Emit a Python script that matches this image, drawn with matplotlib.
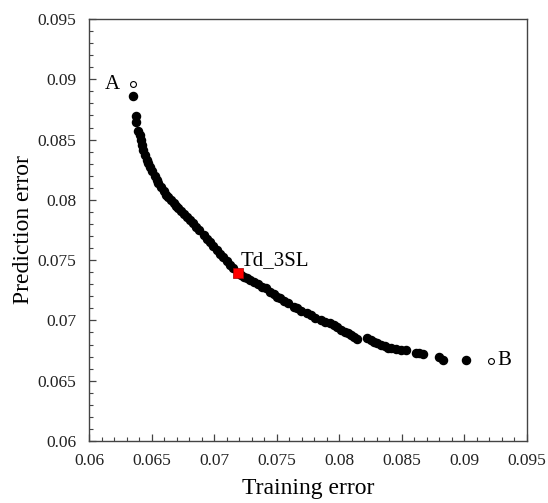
import matplotlib
matplotlib.use("Agg")
import matplotlib.pyplot as plt
from matplotlib.ticker import MultipleLocator

# Pareto front
training_error = [
    0.06355, 0.06374, 0.06379, 0.06395, 0.06404, 0.06416, 0.06424, 0.06435,
    0.06449, 0.06461, 0.06473, 0.06489, 0.06505, 0.06525, 0.06541, 0.06555,
    0.06577, 0.06601, 0.06617, 0.06635, 0.06657, 0.06681, 0.06697, 0.06715,
    0.06737, 0.06761, 0.06785, 0.06809, 0.06833, 0.06857, 0.06881, 0.06915,
    0.06945, 0.06969, 0.06993, 0.07023, 0.07049, 0.07073, 0.07101, 0.07129,
    0.07153, 0.07217, 0.07241, 0.07265, 0.07289, 0.07321, 0.07353, 0.07386,
    0.07418, 0.07450, 0.07482, 0.07506, 0.07530, 0.07562, 0.07594, 0.07636,
    0.07666, 0.07698, 0.07744, 0.07770, 0.07802, 0.07850, 0.07882, 0.07922,
    0.07954, 0.07984, 0.08010, 0.08042, 0.08066, 0.08090, 0.08114, 0.08144,
    0.08221, 0.08250, 0.08275, 0.08304, 0.08331, 0.08363, 0.08387, 0.08411,
    0.08451, 0.08491, 0.08531, 0.08611, 0.08635, 0.08665, 0.08798, 0.08825,
    0.09011,
]
prediction_error = [
    0.08861, 0.08696, 0.08648, 0.08571, 0.08538, 0.08496, 0.08455, 0.08414,
    0.08372, 0.08331, 0.08302, 0.08275, 0.08239, 0.08198, 0.08165, 0.08137,
    0.08107, 0.08074, 0.08044, 0.08026, 0.07999, 0.07970, 0.07949, 0.07930,
    0.07908, 0.07883, 0.07854, 0.07833, 0.07804, 0.07775, 0.07750, 0.07709,
    0.07675, 0.07650, 0.07621, 0.07584, 0.07555, 0.07526, 0.07493, 0.07460,
    0.07431, 0.07377, 0.07360, 0.07348, 0.07335, 0.07319, 0.07302, 0.07281,
    0.07265, 0.07238, 0.07219, 0.07198, 0.07184, 0.07165, 0.07145, 0.07114,
    0.07099, 0.07082, 0.07059, 0.07045, 0.07024, 0.07004, 0.06991, 0.06975,
    0.06958, 0.06948, 0.06921, 0.06908, 0.06896, 0.06879, 0.06863, 0.06843,
    0.06852, 0.06838, 0.06825, 0.06810, 0.06800, 0.06788, 0.06775, 0.06769,
    0.06761, 0.06755, 0.06755, 0.06727, 0.06726, 0.06722, 0.06699, 0.06672,
    0.06672,
]

# extreme solutions A and B (open circles) and the chosen one
end_names = ["A", "B"]
end_train = [0.06350, 0.09212]
end_pred = [0.08958, 0.06664]
chosen_name = "Td_3SL"
chosen_train = 0.07193
chosen_pred = 0.07391

plt.rcParams["font.family"] = ["Liberation Serif", "DejaVu Serif"]

fig = plt.figure(figsize=(5.48, 5.03), dpi=100)
ax = fig.add_axes([0.1624, 0.1233, 0.7993, 0.8389])

ax.scatter(training_error, prediction_error, s=34, color="black", zorder=3)
ax.scatter(end_train, end_pred, s=18, facecolor="white", edgecolor="black",
           linewidth=0.8, zorder=3)
ax.scatter([chosen_train], [chosen_pred], s=50, marker="s", color="red",
           edgecolor="#a00000", linewidth=0.5, zorder=4)

ax.text(end_train[0] - 0.0010, end_pred[0], end_names[0], fontsize=15,
        ha="right", va="center")
ax.text(end_train[1] + 0.0005, end_pred[1], end_names[1], fontsize=15,
        ha="left", va="center")
ax.text(chosen_train + 0.0002, chosen_pred + 0.0003, chosen_name, fontsize=15,
        ha="left", va="bottom")

ax.set_xlim(0.06, 0.095)
ax.set_ylim(0.06, 0.095)
ax.xaxis.set_major_locator(MultipleLocator(0.005))
ax.yaxis.set_major_locator(MultipleLocator(0.005))
ax.xaxis.set_minor_locator(MultipleLocator(0.001))
ax.yaxis.set_minor_locator(MultipleLocator(0.001))


def fmt(v, pos):
    return ("%.3f" % v).rstrip("0")


ax.xaxis.set_major_formatter(plt.FuncFormatter(fmt))
ax.yaxis.set_major_formatter(plt.FuncFormatter(fmt))

ax.tick_params(which="both", direction="in", top=False, right=False,
               labelsize=12.5, color="#444444", labelcolor="#222222")
ax.tick_params(which="major", length=5, width=0.9, pad=9)
ax.tick_params(which="minor", length=3, width=0.8)
for sp in ax.spines.values():
    sp.set_color("#444444")
    sp.set_linewidth(1.0)

ax.set_xlabel("Training error", fontsize=17, labelpad=6)
ax.set_ylabel("Prediction error", fontsize=17, labelpad=3)

fig.savefig("out.png", dpi=100)
